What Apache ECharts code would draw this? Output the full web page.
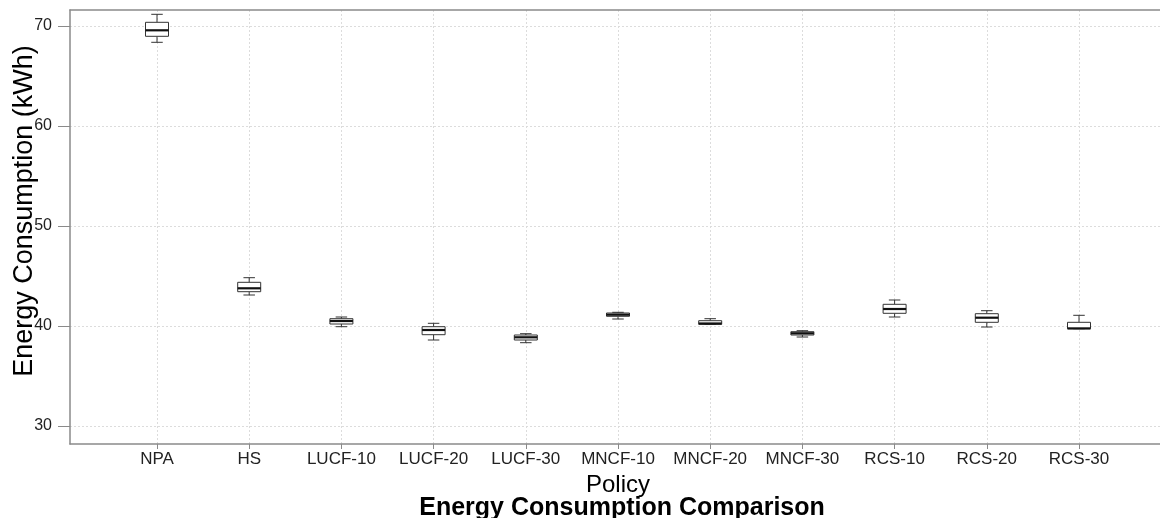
<!DOCTYPE html>
<html>
<head>
<meta charset="utf-8">
<script src="https://cdn.jsdelivr.net/npm/echarts@6/dist/echarts.min.js"></script>
<style>html,body{margin:0;padding:0;background:#fff;}#c{width:1160px;height:518px;}</style>
</head>
<body>
<div id="c"></div>
<script>
const categories = ['NPA','HS','LUCF-10','LUCF-20','LUCF-30','MNCF-10','MNCF-20','MNCF-30','RCS-10','RCS-20','RCS-30'];
const minVals    = [68.37, 43.10, 39.93, 38.60, 38.33, 40.70, 40.15, 38.90, 40.90, 39.90, 39.73];
const q1Vals     = [68.97, 43.43, 40.20, 39.13, 38.60, 40.97, 40.17, 39.10, 41.27, 40.37, 39.73];
const medianVals = [69.57, 43.77, 40.50, 39.60, 38.87, 41.13, 40.25, 39.27, 41.70, 40.83, 39.76];
const q3Vals     = [70.37, 44.37, 40.73, 39.93, 39.10, 41.30, 40.53, 39.43, 42.17, 41.23, 40.37];
const maxVals    = [71.17, 44.83, 40.90, 40.27, 39.23, 41.37, 40.73, 39.53, 42.60, 41.53, 41.07];
const yTicks = [30, 40, 50, 60, 70];

const boxData = categories.map((c, i) => [i, minVals[i], q1Vals[i], medianVals[i], q3Vals[i], maxVals[i]]);

const FONT = 'Liberation Sans, Arial, sans-serif';
const FRAME = '#8a8a8a';
const chart = echarts.init(document.getElementById('c'), null, {renderer: 'canvas'});

function renderBox(params, api) {
  const i = api.value(0);
  const pMin = api.coord([i, api.value(1)]);
  const pQ1 = api.coord([i, api.value(2)]);
  const pMed = api.coord([i, api.value(3)]);
  const pQ3 = api.coord([i, api.value(4)]);
  const pMax = api.coord([i, api.value(5)]);
  const x = pMed[0];
  const bw = 23, cw = 11.5;
  const st = {stroke: '#333', lineWidth: 1, fill: null};
  return {
    type: 'group',
    children: [
      {type: 'line', shape: {x1: x, y1: pMax[1], x2: x, y2: pQ3[1]}, style: st},
      {type: 'line', shape: {x1: x, y1: pQ1[1], x2: x, y2: pMin[1]}, style: st},
      {type: 'line', shape: {x1: x - cw / 2, y1: pMax[1], x2: x + cw / 2, y2: pMax[1]}, style: st},
      {type: 'line', shape: {x1: x - cw / 2, y1: pMin[1], x2: x + cw / 2, y2: pMin[1]}, style: st},
      {type: 'rect', shape: {x: x - bw / 2, y: pQ3[1], width: bw, height: pQ1[1] - pQ3[1]}, style: {fill: '#fff', stroke: '#333', lineWidth: 1}},
      {type: 'line', shape: {x1: x - bw / 2, y1: pMed[1], x2: x + bw / 2, y2: pMed[1]}, style: {stroke: '#111', lineWidth: 2.2}}
    ]
  };
}

chart.setOption({
  animation: false,
  backgroundColor: '#fff',
  title: {
    text: 'Energy Consumption Comparison',
    left: 617, top: 491, textAlign: 'center',
    textStyle: {fontFamily: FONT, fontSize: 25, fontWeight: 'bold', color: '#000'}
  },
  graphic: [{
    type: 'text', x: 25, y: 211, rotation: Math.PI / 2,
    style: {text: 'Energy Consumption (kWh)', font: '27px ' + FONT, fill: '#000', textAlign: 'center', textVerticalAlign: 'middle'}
  }],
  grid: [
    {left: 110.9, right: 34.9, top: 10, bottom: 74},
    {left: 70, right: 0, top: 10, bottom: 74}
  ],
  xAxis: [
    {
      type: 'category', gridIndex: 0, data: categories, boundaryGap: true,
      name: 'Policy', nameLocation: 'middle', nameGap: 19,
      nameTextStyle: {fontFamily: FONT, fontSize: 24, color: '#000'},
      axisLine: {show: false},
      axisTick: {show: true, alignWithLabel: true, length: 5, lineStyle: {color: FRAME}},
      axisLabel: {fontFamily: FONT, fontSize: 17, color: '#222', margin: 7, interval: 0},
      splitLine: {show: true, alignWithLabel: true, lineStyle: {color: '#dcdcdc', type: [2, 2], width: 1}}
    },
    {type: 'value', gridIndex: 1, min: 0, max: 1, position: 'bottom',
      axisLine: {show: true, onZero: false, lineStyle: {color: FRAME, width: 1.5}},
      axisTick: {show: false}, axisLabel: {show: false}, splitLine: {show: false}},
    {type: 'value', gridIndex: 1, min: 0, max: 1, position: 'top',
      axisLine: {show: true, onZero: false, lineStyle: {color: FRAME, width: 1.5}},
      axisTick: {show: false}, axisLabel: {show: false}, splitLine: {show: false}}
  ],
  yAxis: [
    {type: 'value', gridIndex: 0, min: 28.2, max: 71.6, show: false, splitLine: {show: false}},
    {
      type: 'value', gridIndex: 1, min: 28.2, max: 71.6,
      axisLine: {show: true, onZero: false, lineStyle: {color: FRAME, width: 1.5}},
      axisTick: {show: true, length: 12, customValues: yTicks, lineStyle: {color: FRAME}},
      axisLabel: {fontFamily: FONT, fontSize: 16, color: '#222', margin: 18, customValues: yTicks},
      splitLine: {show: true, lineStyle: {color: '#dcdcdc', type: [2, 2], width: 1}}
    }
  ],
  series: [{
    type: 'custom',
    xAxisIndex: 0, yAxisIndex: 0,
    renderItem: renderBox,
    encode: {x: 0, y: [1, 2, 3, 4, 5]},
    data: boxData,
    z: 10
  }]
});
</script>
</body>
</html>
